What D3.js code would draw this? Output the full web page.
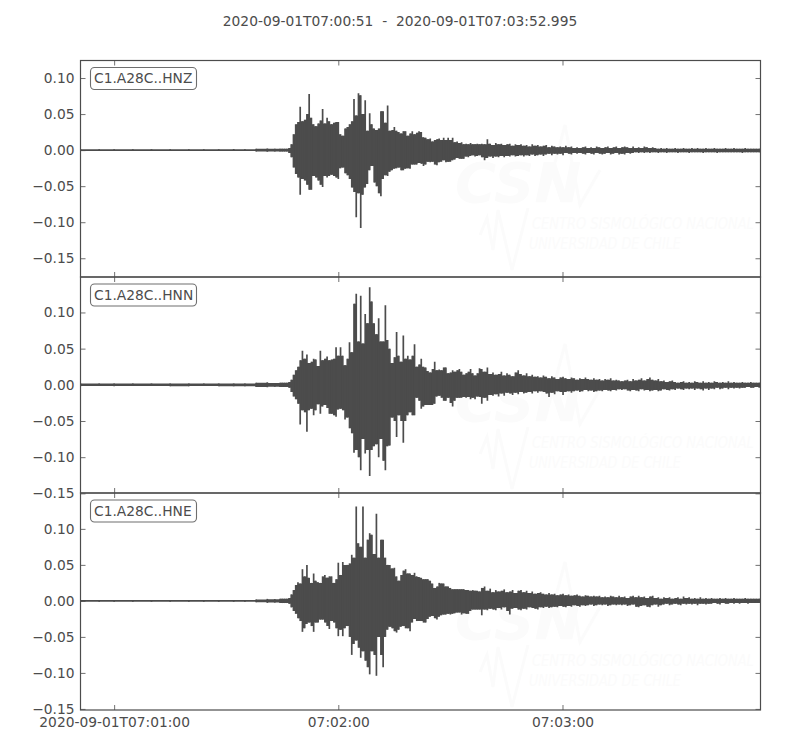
<!DOCTYPE html>
<html>
<head>
<meta charset="utf-8">
<script src="https://cdn.jsdelivr.net/npm/d3@7"></script>
<style>
html,body{margin:0;padding:0;background:#fff;}
svg{display:block;}
text{font-family:"DejaVu Sans",sans-serif;font-size:13.8px;fill:#4c4c4c;}
</style>
</head>
<body>
<div id="chart"></div>
<script>
// Seconds after 07:00:00 and amplitudes in thousandths
const titleText = "2020-09-01T07:00:51  -  2020-09-01T07:03:52.995";
const xTickValues = [60,120,180];
const xTickLabels = ["2020-09-01T07:01:00","07:02:00","07:03:00"];
const yTicks = [-150,-100,-50,0,50,100];
const stations = ["C1.A28C..HNZ","C1.A28C..HNN","C1.A28C..HNE"];

const timesPre = [51,56,60,65,70,75,80,84,88,92,95,98,101,103];
const timesBody = [104.4,105,105.6,106.2,106.8,107.4,108,108.6,109.2,109.8,110.4,111,111.6,112.2,112.8,113.4,114,114.6,115.2,115.8,116.4,117,117.6,118.2,118.8,119.4,120,120.6,121.2,121.8,122.4,123,123.6,124.2,124.8,125.4,126,126.6,127.2,127.8,128.4,129,129.6,130.2,130.8,131.4,132,132.6,133.2,133.8,134.4,135,135.6,136.2,136.8,137.4,138,138.6,139.2,139.8,140.4,141,141.6,142.2,142.8,143.4,144,144.6,145.2,145.8,146.4,147,147.6,148.2,148.8,149.4,150,150.6,151.2,151.8,152.4,153,153.6,154.2,154.8,155.4,156,156.6,157.2,157.8];
const timesTail = [158.4,159.15,159.9,160.65,161.4,162.15,162.9,163.65,164.4,165.15,
165.9,166.65,167.4,168.15,168.9,169.65,170.4,171.15,171.9,172.65,
173.4,174.15,174.9,175.65,176.4,177.15,177.9,178.65,179.4,180.15,
180.9,181.65,182.4,183.15,183.9,184.65,185.4,186.15,186.9,187.65,
188.4,189.15,189.9,190.65,191.4,192.15,192.9,193.65,194.4,195.15,
195.9,196.65,197.4,198.15,198.9,199.65,200.4,201.15,201.9,202.65,
203.4,204.15,204.9,205.65,206.4,207.15,207.9,208.65,209.4,210.15,
210.9,211.65,212.4,213.15,213.9,214.65,215.4,216.15,216.9,217.65,
218.4,219.15,219.9,220.65,221.4,222.15,222.9,223.65,224.4,225.15,
225.9,226.65,227.4,228.15,228.9,229.65,230.4,231.15,231.9,232.65,
232.995];

const hnzPreHi = [1.1,1.2,1.1,1.1,1.2,1.1,1.2,1.2,1.2,1.4,1.2,2,2.4,2];
const hnzPreLo = [1.1,1.1,1.2,1.1,1.1,1.2,1.1,1.2,1.1,1.4,1.2,2,2.4,2];
const hnzBodyHi = [2,2,2,2,3,8,22,36,39,60,40,42,50,78,45,36,33,37,41,57,37,45,40,36,38,39,39,22,20,30,32,36,40,71,48,79,76,50,69,27,51,36,30,28,30,54,54,38,62,27,28,32,27,25,23,26,26,20,23,26,22,24,26,25,18,17,15,16,12,14,15,16,14,17,14,17,14,17,11,12,10,11,8,9,8,10,8,8,9,8];
const hnzBodyLo = [2,2,2,2,4,10,24,33,38,62,40,42,48,55,55,36,38,42,48,51,36,38,36,34,36,38,40,25,24,32,35,40,52,58,93,60,108,62,52,47,28,22,45,50,60,64,40,35,36,30,28,26,25,24,28,28,26,25,26,20,20,20,18,19,22,20,16,17,16,20,21,17,16,14,17,16,16,14,13,11,12,12,12,9,10,8,7,9,8,7];
const hnzTailHi = [9,8,15,9,7,10,8,9,7,8,
9,6,8,7,8,6,7,5,8,6,
7,5,6,7,4,6,5,4,5,4,
6,4,5,3,4,3,4,5,3,4,
3,5,4,3,4,5,3,4,5,3,
4,5,4,3,5,3,4,3,5,4,
3,4,3,2,3,2,3,2,2,3,
2,2,3,2,2,3,2,3,2,2,
3,2,2,3,2,2,2,3,2,2,
3,2,2,2,3,2,2,2,2,2,
2];
const hnzTailLo = [10,14,11,9,11,9,10,8,10,8,
9,7,9,8,7,9,7,8,6,8,
7,6,8,6,5,7,5,6,5,7,
4,5,6,4,5,4,5,6,4,5,
6,4,5,6,5,4,6,5,4,6,
5,6,4,5,4,3,4,3,4,3,
4,3,3,4,3,3,4,3,3,3,
4,3,3,3,4,3,3,3,3,4,
3,3,3,3,4,3,3,3,3,3,
3,3,3,4,3,3,3,3,3,3,
3];

const hnnPreHi = [1.8,1.9,1.8,1.9,1.8,1.8,1.9,1.9,1.8,1.9,1.9,3,3.4,2.6];
const hnnPreLo = [1.9,1.8,1.9,1.8,1.8,1.9,1.9,1.8,1.9,1.9,1.9,3,3.4,2.6];
const hnnBodyHi = [3,3,3,3,4,7,14,20,25,34,47,36,42,30,32,36,35,26,47,34,36,39,34,35,36,52,40,52,40,27,36,59,45,112,126,60,123,57,98,85,135,115,85,70,92,60,60,110,62,50,30,38,73,40,32,68,36,40,35,40,56,25,28,36,25,24,19,17,22,32,20,21,20,24,24,16,17,20,18,20,22,18,14,16,18,22,16,13,16,23];
const hnnBodyLo = [3,3,3,3,4,10,16,20,26,55,35,38,65,35,33,42,35,27,40,30,28,32,40,40,42,44,34,33,35,48,45,60,67,94,90,100,118,75,95,90,126,90,85,82,100,75,105,118,85,84,45,50,72,42,50,80,50,42,38,42,42,18,22,33,30,28,28,28,28,26,16,15,18,22,22,18,25,30,22,18,18,18,17,18,17,20,18,20,16,17];
const hnnTailHi = [22,18,24,15,17,14,15,18,13,16,
14,12,17,20,15,13,16,12,14,11,
12,10,13,11,9,12,10,8,10,11,
9,8,10,9,7,9,8,10,8,7,
9,7,8,6,8,7,9,6,7,6,
5,6,7,5,8,6,7,9,6,8,
10,7,6,8,5,6,4,5,6,4,
3,4,5,3,4,3,5,4,3,5,
3,4,3,5,4,3,4,3,5,3,
4,3,3,4,3,3,4,3,3,3,
3];
const hnnTailLo = [26,18,22,14,15,13,16,12,15,11,
12,14,11,13,10,12,11,10,12,9,
11,9,10,12,17,11,13,9,10,14,
10,9,11,9,8,10,9,7,9,8,
10,9,8,9,7,8,9,7,8,6,
7,6,8,9,7,8,9,6,8,7,
9,8,7,9,8,6,7,8,6,7,
5,6,7,5,6,5,7,5,6,8,
5,7,5,6,4,6,5,4,6,4,
5,4,5,4,4,3,4,4,3,4,
3];

const hnePreHi = [1.2,1.2,1.1,1.2,1.2,1.1,1.2,1.2,1.2,1.3,1.2,2,2.8,2.4];
const hnePreLo = [1.2,1.1,1.2,1.2,1.1,1.2,1.2,1.2,1.2,1.3,1.2,2,2.8,2.4];
const hneBodyHi = [3,3,3,3,4,9,15,22,26,24,44,34,50,32,25,38,28,26,25,34,36,32,34,34,25,30,53,36,54,50,50,52,64,60,131,80,75,131,60,85,94,92,65,121,60,85,85,60,50,50,45,46,34,28,36,42,44,38,38,36,39,34,33,32,30,30,30,28,24,18,20,25,24,24,20,20,18,16,16,16,16,16,16,15,15,14,15,14,14,13];
const hneBodyLo = [3,3,3,3,4,9,14,18,24,28,43,38,32,30,35,43,30,30,26,26,30,35,39,28,30,38,49,40,49,38,35,50,75,60,55,65,79,70,83,92,102,70,75,104,50,75,92,50,40,36,38,42,44,40,36,35,38,38,42,30,25,28,28,28,30,30,25,22,21,24,26,22,20,19,19,18,19,18,17,16,16,19,17,18,18,14,12,12,12,12];
const hneTailHi = [18,20,14,17,12,15,13,14,16,12,
13,15,11,14,15,12,14,11,13,10,
11,12,10,9,11,9,10,8,9,10,
8,9,7,8,9,7,6,8,7,6,
7,6,7,5,6,5,7,6,5,7,
5,6,4,6,7,5,7,5,6,4,
6,7,4,5,3,5,4,5,3,4,
5,3,6,4,5,3,4,3,5,3,
4,3,4,3,3,4,3,4,3,3,
4,3,3,3,4,3,3,3,3,3,
3];
const hneTailLo = [20,12,13,11,12,13,10,12,9,14,
19,11,10,12,13,11,12,9,10,11,
12,9,10,8,10,9,8,9,7,8,
9,7,8,6,7,8,6,7,6,5,
7,6,5,6,5,7,6,5,6,5,
6,5,7,6,5,8,9,7,6,8,
9,6,5,8,6,5,4,6,5,4,
5,6,4,5,4,5,4,6,4,4,
5,4,4,3,4,5,3,4,4,3,
4,3,4,3,3,4,3,3,3,3,
3];

const xDomain = [51,232.995];
const yDomains = [[-176,124.3],[-149.5,149],[-151.5,149.8]];
const highs = [hnzPreHi.concat(hnzBodyHi,hnzTailHi),hnnPreHi.concat(hnnBodyHi,hnnTailHi),hnePreHi.concat(hneBodyHi,hneTailHi)];
const lows  = [hnzPreLo.concat(hnzBodyLo,hnzTailLo),hnnPreLo.concat(hnnBodyLo,hnnTailLo),hnePreLo.concat(hneBodyLo,hneTailLo)];
const times = timesPre.concat(timesBody,timesTail);

const W=800,H=750,dark="#4c4c4c";
const left=80.5,right=760.5;
const tops=[60.5,277,493], bottoms=[277,493,710];
const wmOffset=[0,219,437];

const svg=d3.select("#chart").append("svg").attr("width",W).attr("height",H);
const x=d3.scaleLinear().domain(xDomain).range([left,right]);

svg.append("text").attr("x",400).attr("y",26).attr("text-anchor","middle").style("white-space","pre").text(titleText);

const fmt=v=>(v<0?"\u2212":"")+(Math.abs(v)/1000).toFixed(2);
const defs=svg.append("defs");

function squeezed(parent,str,px,py,targetW,size,faint){
  const t=parent.append("text").style("font-size",size+"px").style("font-style","italic").style("fill",faint).text(str);
  const len=t.node().getComputedTextLength();
  t.attr("transform",`translate(${px},${py}) scale(${targetW/len},1)`);
}

stations.forEach((name,k)=>{
  const y=d3.scaleLinear().domain(yDomains[k]).range([bottoms[k],tops[k]]);
  const g=svg.append("g");
  defs.append("clipPath").attr("id","c"+k).append("rect")
    .attr("x",left).attr("y",tops[k]).attr("width",right-left).attr("height",bottoms[k]-tops[k]);

  // watermark
  const wm=g.append("g").attr("transform",`translate(0,${wmOffset[k]})`);
  const faint="#fbfbfb";
  wm.append("text").attr("x",455).attr("y",201.5).style("font-size","56px").style("font-weight","bold").style("font-style","italic").style("fill",faint).text("CSN");
  squeezed(wm,"CENTRO SISMOLÓGICO NACIONAL",532,229,222,15,faint);
  squeezed(wm,"UNIVERSIDAD DE CHILE",529,249,152,15,faint);
  wm.append("path").attr("d","M545,200L565,125L580,205L600,170").attr("fill","none").attr("stroke",faint).attr("stroke-width",3);
  wm.append("path").attr("d","M480,235L487,218L493,250L498,210L512,270L528,208").attr("fill","none").attr("stroke",faint).attr("stroke-width",3);

  // waveform: solid core between samples, plus a vertical stroke per sample
  const pts=times.map((t,i)=>({t,hi:highs[k][i],lo:lows[k][i]}));
  const core=pts.map((d,i)=>{
    const n=pts[Math.min(i+1,pts.length-1)];
    return {t:d.t,hi:Math.min(d.hi,n.hi),lo:Math.min(d.lo,n.lo)};
  });
  const wave=g.append("g").attr("clip-path",`url(#c${k})`);
  const area=d3.area().x(d=>x(d.t)).y0(d=>y(-d.lo)).y1(d=>y(d.hi)).curve(d3.curveStepAfter);
  wave.append("path").attr("d",area(core)).attr("fill",dark);
  wave.selectAll("line").data(pts).join("line")
    .attr("x1",d=>x(d.t)).attr("x2",d=>x(d.t))
    .attr("y1",d=>y(d.hi)).attr("y2",d=>y(-d.lo))
    .attr("stroke",dark).attr("stroke-width",1.7);

  // axes
  const ax=g.append("g");
  const yL=d3.axisLeft(y).tickValues(yTicks).tickSizeInner(-5).tickSizeOuter(0).tickPadding(6).tickFormat(fmt);
  const yR=d3.axisRight(y).tickValues(yTicks).tickSizeInner(-5).tickSizeOuter(0).tickFormat("");
  const xT=d3.axisTop(x).tickValues(xTickValues).tickSizeInner(-5).tickSizeOuter(0).tickFormat("");
  const xB=d3.axisBottom(x).tickValues(xTickValues).tickSizeInner(-5).tickSizeOuter(0).tickPadding(7)
     .tickFormat((d,i)=>k===2?xTickLabels[i]:"");
  ax.append("g").attr("transform",`translate(${left},0)`).call(yL);
  ax.append("g").attr("transform",`translate(${right},0)`).call(yR);
  ax.append("g").attr("transform",`translate(0,${tops[k]})`).call(xT);
  ax.append("g").attr("transform",`translate(0,${bottoms[k]})`).call(xB);
  ax.selectAll(".domain").remove();
  ax.selectAll("line").attr("stroke",dark).attr("stroke-width",0.8);
  g.append("rect").attr("x",left).attr("y",tops[k]).attr("width",right-left).attr("height",bottoms[k]-tops[k])
    .attr("fill","none").attr("stroke",dark).attr("stroke-width",1.2);

  // label
  g.append("rect").attr("x",90.5).attr("y",tops[k]+7).attr("width",106).attr("height",22).attr("rx",4)
    .attr("fill","#fff").attr("stroke","#6e6e6e").attr("stroke-width",1.1);
  g.append("text").attr("x",94).attr("y",tops[k]+22.5).text(name);
});
</script>
</body>
</html>
